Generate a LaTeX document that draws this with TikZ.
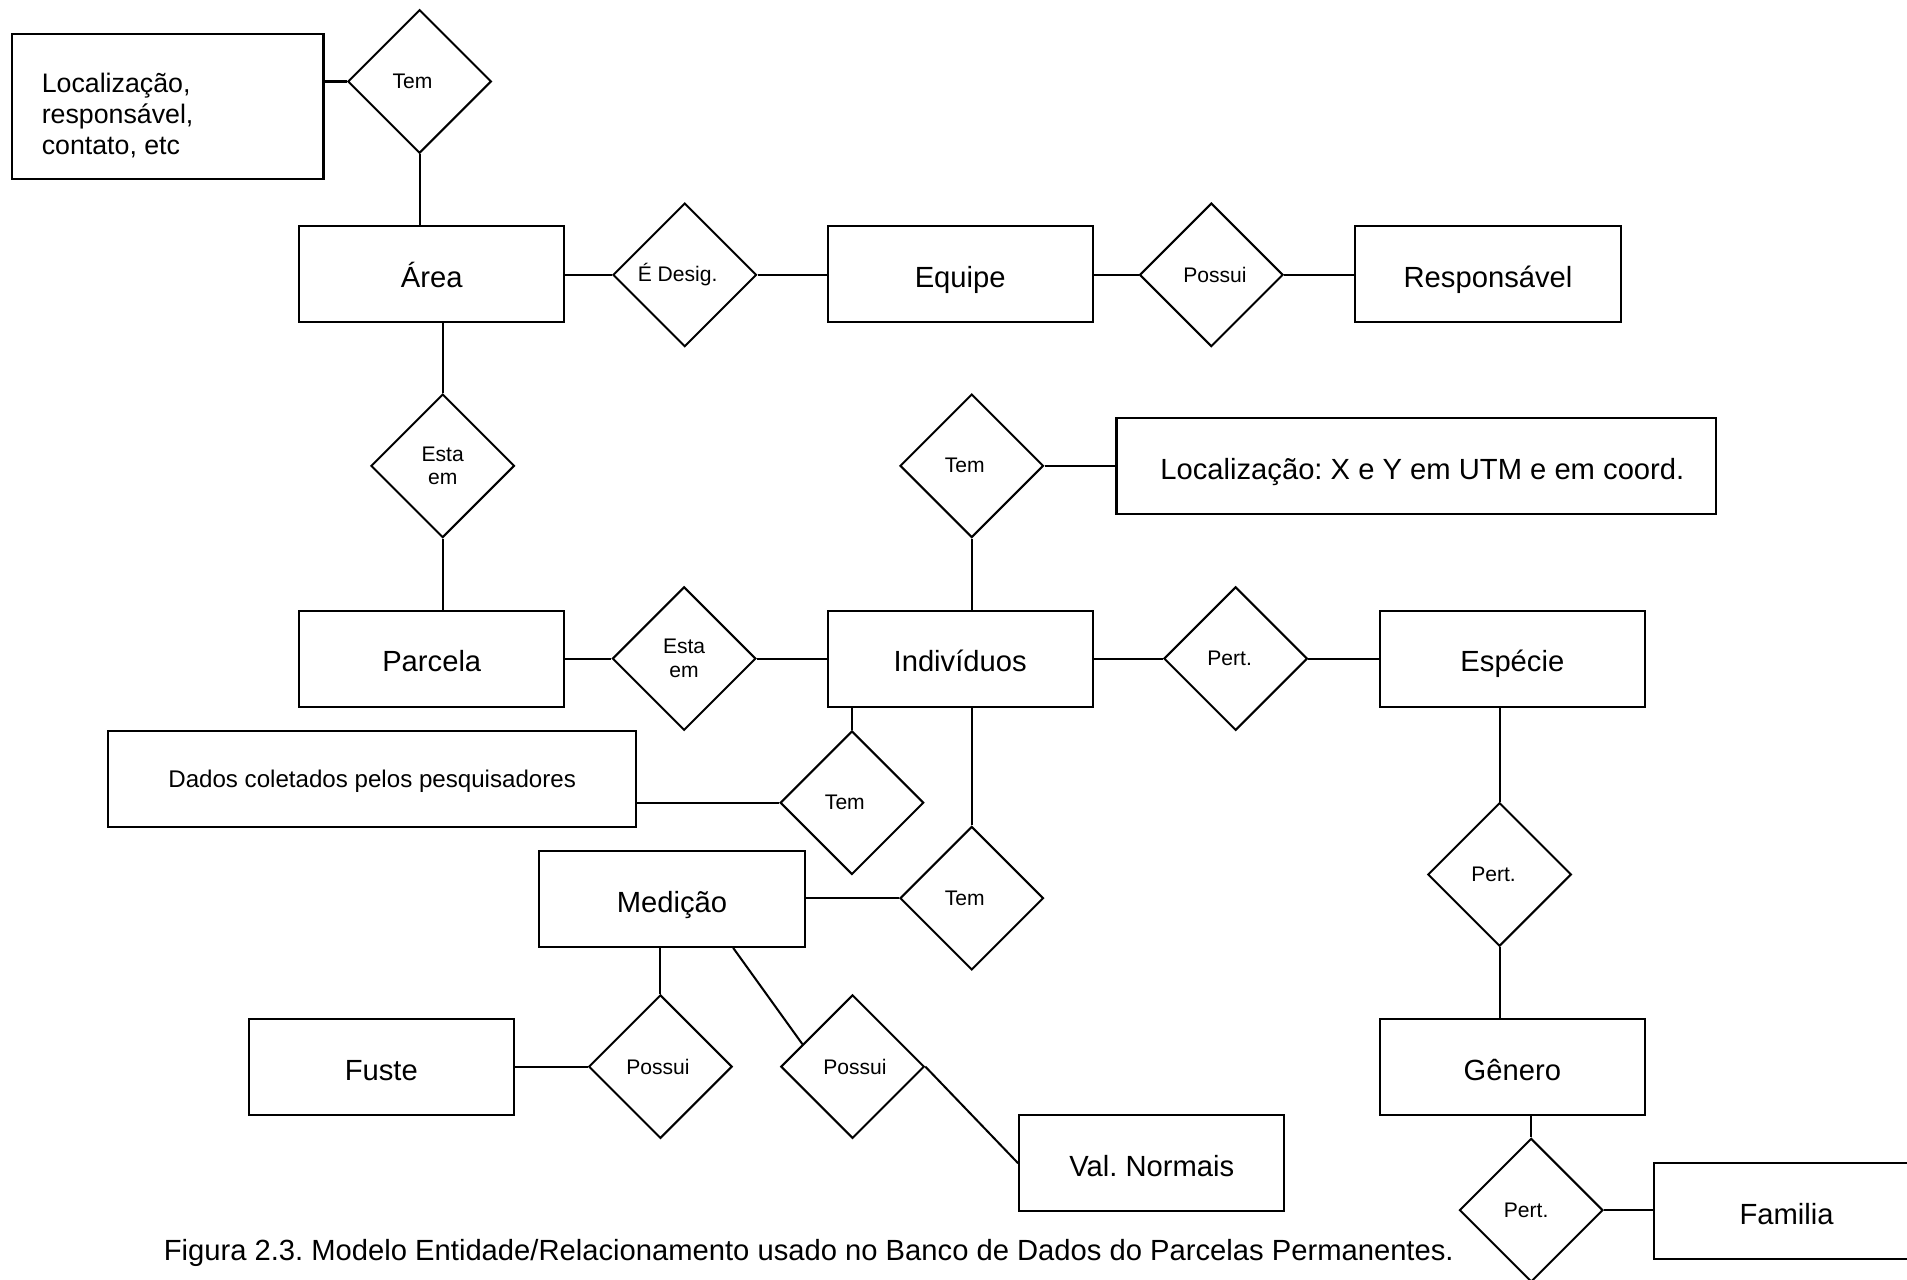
\documentclass[tikz,border=0pt]{standalone}
\usepackage{fontspec}
\setmainfont{Liberation Sans}
\usetikzlibrary{shapes.geometric,calc}
\tikzset{
  ent/.style={draw, line width=1pt, rectangle, minimum width=130.8pt, minimum height=47.4pt, inner sep=0pt, text height=13.2pt, text depth=0pt, font=\fontsize{14.4}{17}\selectfont},
  rel/.style={draw, line width=1pt, diamond, minimum width=70.8pt, minimum height=70.8pt, inner sep=0pt, align=center, font=\fontsize{10.4}{11.8}\selectfont},
  conn/.style={line width=1pt},
}
\begin{document}
\frenchspacing
\begin{tikzpicture}[x=0.6pt,y=-0.6pt]
\useasboundingbox (0,0) rectangle (1568,1052);
% entities
\node[ent, minimum width=153.6pt, minimum height=71.4pt] (locresp) at (138,87.5) {};
\node[anchor=west, align=left, inner sep=0pt, font=\fontsize{13.2}{15.3}\selectfont] (locresptxt) at (34,95) {Localização,\\responsável,\\contato, etc};
\node[ent] (area) at (355,225.5) {Área};
\node[ent] (equipe) at (789.5,225.5) {Equipe};
\node[ent] (resp) at (1223.5,225.5) {Responsável};
\node[ent] (parcela) at (355,541.5) {Parcela};
\node[ent] (indiv) at (789.5,541.5) {Indivíduos};
\node[ent, minimum width=295.8pt] (locxy) at (1164.5,383.5) {\hspace*{6pt}Localização: X e Y em UTM e em coord.};
\node[ent] (especie) at (1243.5,541.5) {Espécie};
\node[ent] (genero) at (1243.5,877) {Gênero};
\node[ent] (familia) at (1469,995.5) {Familia};
\node[ent, minimum width=260.4pt, text height=8.5pt, font=\fontsize{11.9}{14}\selectfont] (dados) at (306,640.5) {Dados coletados pelos pesquisadores};
\node[ent] (medicao) at (552.5,739) {Medição};
\node[ent] (fuste) at (313.5,877) {Fuste};
\node[ent] (valn) at (947,956.5) {Val. Normais};
% relationships
\node[rel] (tem1) at (345,67) {\hspace*{-7pt}Tem};
\node[rel] (desig) at (563,226) {\hspace*{-7pt}É Desig.};
\node[rel] (possui1) at (996,226) {\hspace*{3.6pt}Possui};
\node[rel] (estaem1) at (364,383) {Esta\\em};
\node[rel] (estaem2) at (562.5,541.5) {Esta\\em};
\node[rel] (tem2) at (799,383) {\hspace*{-7pt}Tem};
\node[rel] (pert1) at (1016,541.5) {\hspace*{-6pt}Pert.};
\node[rel] (pert2) at (1233,719) {\hspace*{-6pt}Pert.};
\node[rel] (pert3) at (1259,995) {\hspace*{-5pt}Pert.};
\node[rel] (tem3) at (700.5,660) {\hspace*{-7pt}Tem};
\node[rel] (tem4) at (799,738.5) {\hspace*{-7pt}Tem};
\node[rel] (possui2) at (543,877) {\hspace*{-2.4pt}Possui};
\node[rel] (possui3) at (701,877) {\hspace*{2.4pt}Possui};
% caption
\node[inner sep=0pt, font=\fontsize{14.4}{17}\selectfont] (caption) at (665,1030) {Figura 2.3. Modelo Entidade/Relacionamento usado no Banco de Dados do Parcelas Permanentes.};
% connectors
\draw[conn] (locresp.east |- tem1.west) -- (tem1.west);
\draw[conn] (tem1.south) -- (tem1.south |- area.north);
\draw[conn] (area.east |- desig.west) -- (desig.west);
\draw[conn] (desig.east) -- (desig.east -| equipe.west);
\draw[conn] (equipe.east |- possui1.west) -- (possui1.west);
\draw[conn] (possui1.east) -- (possui1.east -| resp.west);
\draw[conn] (estaem1.north |- area.south) -- (estaem1.north);
\draw[conn] (estaem1.south) -- (estaem1.south |- parcela.north);
\draw[conn] (parcela.east) -- (estaem2.west);
\draw[conn] (estaem2.east) -- (indiv.west);
\draw[conn] (tem2.east) -- (tem2.east -| locxy.west);
\draw[conn] (tem2.south) -- (tem2.south |- indiv.north);
\draw[conn] (indiv.east) -- (pert1.west);
\draw[conn] (pert1.east) -- (especie.west);
\draw[conn] (pert2.north |- especie.south) -- (pert2.north);
\draw[conn] (pert2.south) -- (pert2.south |- genero.north);
\draw[conn] (pert3.north |- genero.south) -- (pert3.north);
\draw[conn] (pert3.east) -- (pert3.east -| familia.west);
\draw[conn] (dados.east |- tem3.west) -- (tem3.west);
\draw[conn] (tem3.north |- indiv.south) -- (tem3.north);
\draw[conn] (tem4.north |- indiv.south) -- (tem4.north);
\draw[conn] (medicao.east |- tem4.west) -- (tem4.west);
\draw[conn] (possui2.north |- medicao.south) -- (possui2.north);
\draw[conn] (fuste.east |- possui2.west) -- (possui2.west);
\draw[conn] ($(medicao.south west)!0.729!(medicao.south east)$) -- ($(possui3.north)!0.69!(possui3.west)$);
\draw[conn] (possui3.east) -- (valn.west);
\end{tikzpicture}
\end{document}
